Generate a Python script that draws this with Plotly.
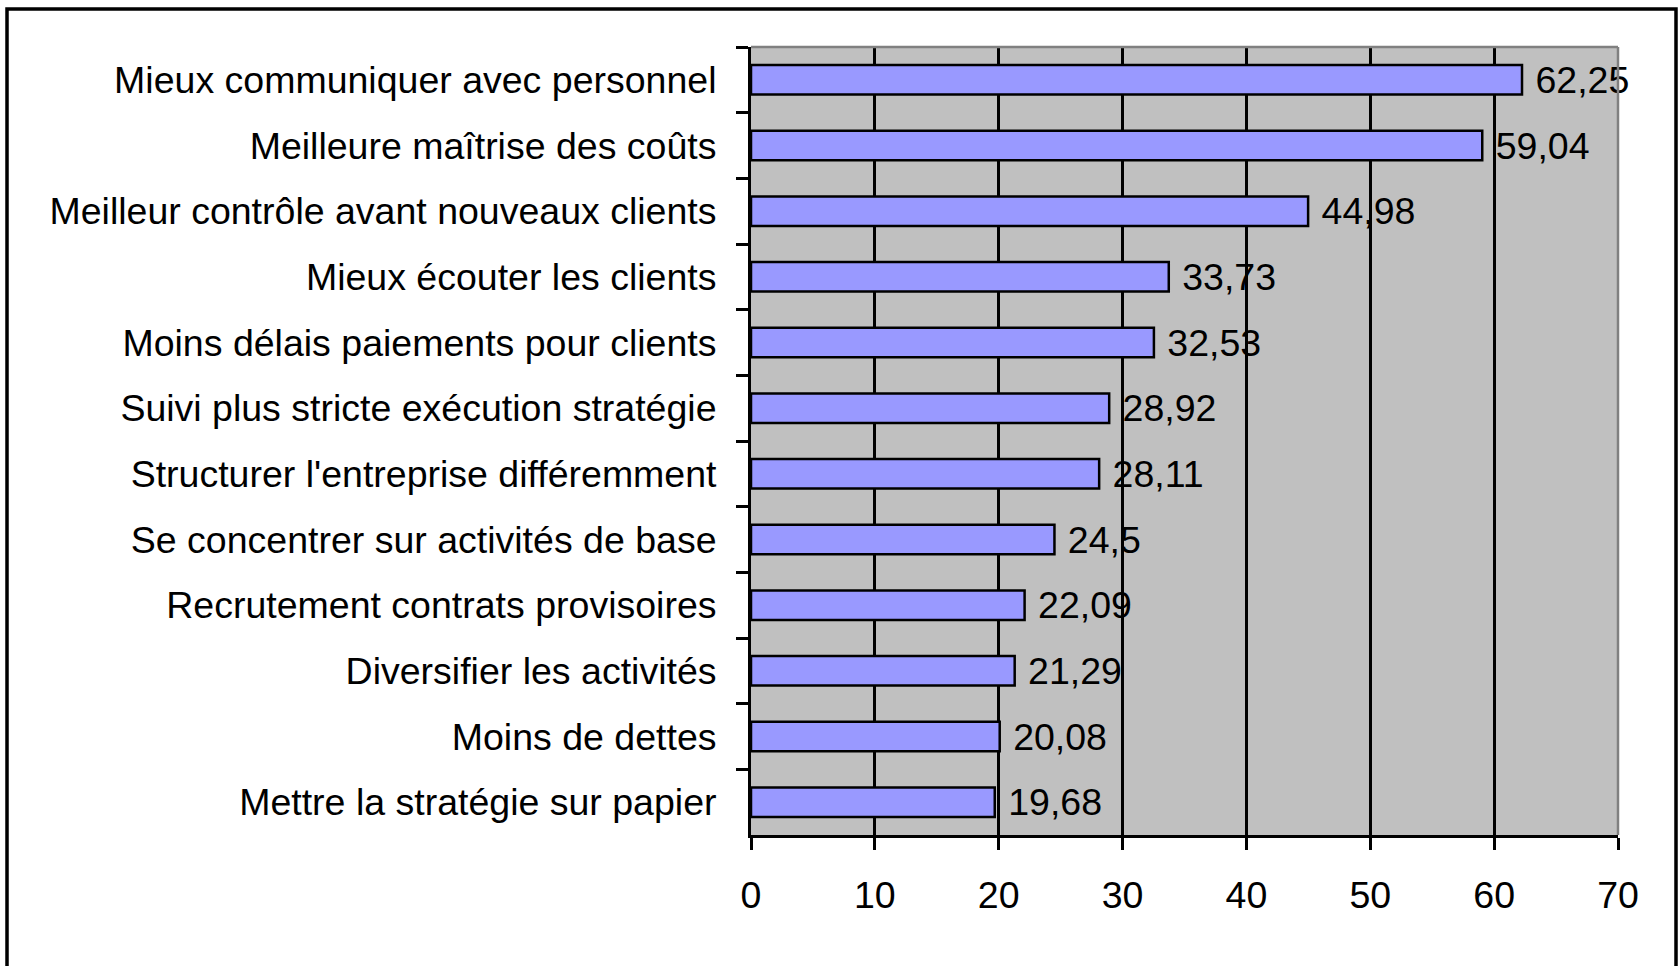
import plotly.graph_objects as go

categories = [
    "Mieux communiquer avec personnel",
    "Meilleure maîtrise des coûts",
    "Meilleur contrôle avant nouveaux clients",
    "Mieux écouter les clients",
    "Moins délais paiements pour clients",
    "Suivi plus stricte exécution stratégie",
    "Structurer l'entreprise différemment",
    "Se concentrer sur activités de base",
    "Recrutement contrats provisoires",
    "Diversifier les activités",
    "Moins de dettes",
    "Mettre la stratégie sur papier",
]
values = [62.25, 59.04, 44.98, 33.73, 32.53, 28.92, 28.11, 24.5, 22.09, 21.29, 20.08, 19.68]
x_ticks = [0, 10, 20, 30, 40, 50, 60, 70]

labels = ["\u00a0" + f"{v:g}".replace(".", ",") for v in values]

FONT = "Liberation Sans, Arial, sans-serif"
FS = 37.5
W, H = 1680, 966
L, R, T, B = 751, 62, 47, 131

fig = go.Figure(
    go.Bar(
        y=categories,
        x=values,
        orientation="h",
        width=0.45,
        marker=dict(color="#9999FF", line=dict(color="black", width=2.5)),
        text=labels,
        textposition="outside",
        textfont=dict(size=FS, color="black", family=FONT),
        constraintext="none",
        cliponaxis=False,
        hoverinfo="x+y",
    )
)

pw = W - L - R
ph = H - T - B

def px_x(p):
    return (p - L) / pw

def px_y(p):
    return (H - B - p) / ph

fig.update_layout(
    template="none",
    width=W,
    height=H,
    margin=dict(l=L, r=R, t=T, b=B, pad=0),
    paper_bgcolor="white",
    plot_bgcolor="#C0C0C0",
    font=dict(family=FONT, size=FS, color="black"),
    showlegend=False,
    xaxis=dict(
        range=[0, 70],
        tickvals=x_ticks,
        ticktext=[str(t) for t in x_ticks],
        showgrid=True,
        gridcolor="black",
        gridwidth=2.5,
        zeroline=False,
        showline=True,
        linecolor="black",
        linewidth=3,
        ticks="outside",
        ticklen=12,
        tickwidth=2.5,
        tickcolor="black",
        ticklabelstandoff=13,
        tickfont=dict(size=FS, family=FONT, color="black"),
        automargin=False,
        fixedrange=True,
    ),
    yaxis=dict(
        type="category",
        autorange="reversed",
        showgrid=False,
        zeroline=False,
        showline=True,
        linecolor="black",
        linewidth=3,
        ticks="outside",
        tickson="boundaries",
        ticklen=12,
        tickwidth=2.5,
        tickcolor="black",
        ticklabelstandoff=24,
        tickfont=dict(size=FS, family=FONT, color="black"),
        automargin=False,
        fixedrange=True,
    ),
    shapes=[
        dict(type="line", xref="paper", yref="paper", x0=0, x1=1, y0=1, y1=1,
             line=dict(color="#808080", width=2.5), layer="above"),
        dict(type="line", xref="paper", yref="paper", x0=1, x1=1, y0=0, y1=1,
             line=dict(color="#808080", width=2.5), layer="above"),
        dict(type="rect", xref="paper", yref="paper",
             x0=px_x(7), x1=px_x(1676), y0=px_y(975), y1=px_y(9),
             line=dict(color="black", width=3.5), fillcolor="rgba(0,0,0,0)", layer="below"),
    ],
)

fig.write_html(
    "out.html",
    config={"displayModeBar": False},
    post_script="document.body.style.margin='0';document.body.style.overflow='hidden';",
)
